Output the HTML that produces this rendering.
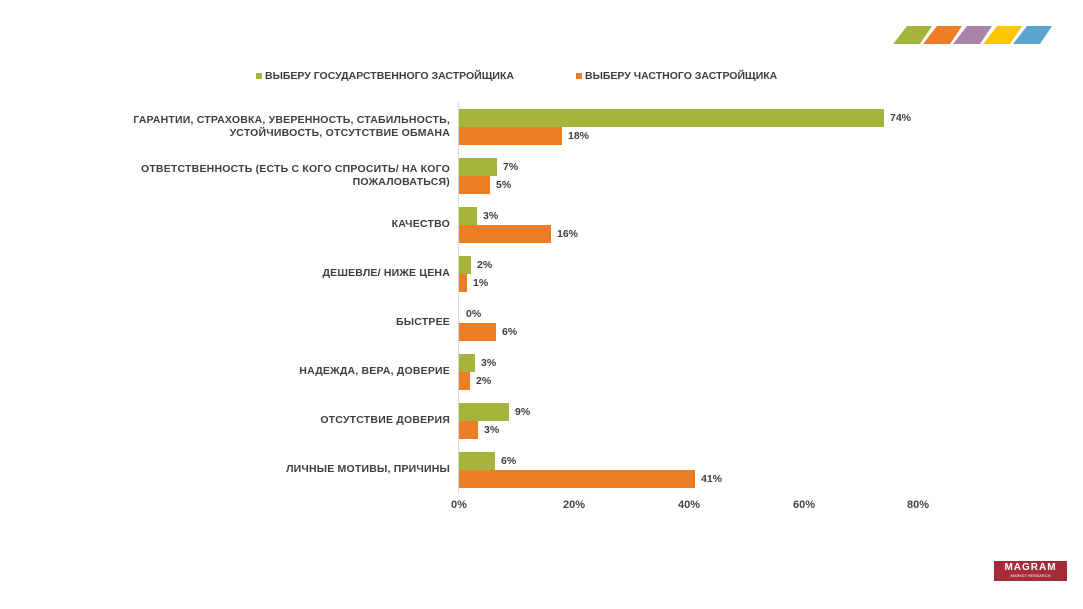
<!DOCTYPE html>
<html><head><meta charset="utf-8"><style>
body{margin:0;width:1083px;height:609px;background:#fff;position:relative;overflow:hidden;font-family:"Liberation Sans","DejaVu Sans",sans-serif;color:#404040}
.a{position:absolute}
.lab{position:absolute;right:633px;text-align:right;font-size:10.5px;font-weight:bold;line-height:13px;color:#3f3f3f;letter-spacing:0.2px}
.v{position:absolute;font-size:10.5px;font-weight:bold;color:#3f3f3f}
.g{position:absolute;left:459px;height:18px;background:#a5b43c}
.o{position:absolute;left:459px;height:18px;background:#ee7d26}
.t{position:absolute;top:499px;font-size:11px;font-weight:bold;color:#444;width:40px;text-align:center}
</style></haed><body>
<svg class="a" style="left:890px;top:24px" width="170" height="22">
<polygon points="17,2 42,2 30,20 3,20" fill="#a5b43c"/>
<polygon points="47,2 72,2 60,20 33,20" fill="#ee7d26"/>
<polygon points="77,2 102,2 90,20 63,20" fill="#a982a8"/>
<polygon points="107,2 132,2 120,20 93,20" fill="#f9c800"/>
<polygon points="137,2 162,2 150,20 123,20" fill="#5aa4d0"/>
</svg>
<div class="a" style="left:256px;top:73px;width:6px;height:6px;background:#a5b43c"></div>
<div class="a" style="left:265px;top:70px;font-size:10.5px;font-weight:bold;color:#3f3f3f">ВЫБЕРУ ГОСУДАРСТВЕННОГО ЗАСТРОЙЩИКА</div>
<div class="a" style="left:576px;top:73px;width:6px;height:6px;background:#ee7d26"></div>
<div class="a" style="left:585px;top:70px;font-size:10.5px;font-weight:bold;color:#3f3f3f">ВЫБЕРУ ЧАСТНОГО ЗАСТРОЙЩИКА</div>
<div class="a" style="left:458px;top:102px;width:1px;height:392px;background:#d9d9d9"></div>

<div class="lab" style="top:114px">ГАРАНТИИ, СТРАХОВКА, УВЕРЕННОСТЬ, СТАБИЛЬНОСТЬ,<br>УСТОЙЧИВОСТЬ, ОТСУТСТВИЕ ОБМАНА</div>
<div class="g" style="top:109px;width:425px"></div><div class="v" style="left:890px;top:112px">74%</div>
<div class="o" style="top:127px;width:103px"></div><div class="v" style="left:568px;top:130px">18%</div>

<div class="lab" style="top:163px">ОТВЕТСТВЕННОСТЬ (ЕСТЬ С КОГО СПРОСИТЬ/ НА КОГО<br>ПОЖАЛОВАТЬСЯ)</div>
<div class="g" style="top:158px;width:38px"></div><div class="v" style="left:503px;top:161px">7%</div>
<div class="o" style="top:176px;width:31px"></div><div class="v" style="left:496px;top:179px">5%</div>

<div class="lab" style="top:218px">КАЧЕСТВО</div>
<div class="g" style="top:207px;width:18px"></div><div class="v" style="left:483px;top:210px">3%</div>
<div class="o" style="top:225px;width:92px"></div><div class="v" style="left:557px;top:228px">16%</div>

<div class="lab" style="top:267px">ДЕШЕВЛЕ/ НИЖЕ ЦЕНА</div>
<div class="g" style="top:256px;width:12px"></div><div class="v" style="left:477px;top:259px">2%</div>
<div class="o" style="top:274px;width:8px"></div><div class="v" style="left:473px;top:277px">1%</div>

<div class="lab" style="top:316px">БЫСТРЕЕ</div>
<div class="v" style="left:466px;top:308px">0%</div>
<div class="o" style="top:323px;width:37px"></div><div class="v" style="left:502px;top:326px">6%</div>

<div class="lab" style="top:365px">НАДЕЖДА, ВЕРА, ДОВЕРИЕ</div>
<div class="g" style="top:354px;width:16px"></div><div class="v" style="left:481px;top:357px">3%</div>
<div class="o" style="top:372px;width:11px"></div><div class="v" style="left:476px;top:375px">2%</div>

<div class="lab" style="top:414px">ОТСУТСТВИЕ ДОВЕРИЯ</div>
<div class="g" style="top:403px;width:50px"></div><div class="v" style="left:515px;top:406px">9%</div>
<div class="o" style="top:421px;width:19px"></div><div class="v" style="left:484px;top:424px">3%</div>

<div class="lab" style="top:463px">ЛИЧНЫЕ МОТИВЫ, ПРИЧИНЫ</div>
<div class="g" style="top:452px;width:36px"></div><div class="v" style="left:501px;top:455px">6%</div>
<div class="o" style="top:470px;width:236px"></div><div class="v" style="left:701px;top:473px">41%</div>

<div class="t" style="left:439px">0%</div>
<div class="t" style="left:554px">20%</div>
<div class="t" style="left:669px">40%</div>
<div class="t" style="left:784px">60%</div>
<div class="t" style="left:898px">80%</div>

<div class="a" style="left:994px;top:561px;width:73px;height:20px;background:#a52a3a;color:#fff;text-align:center">
<div style="font-size:10px;font-weight:bold;line-height:11px;letter-spacing:1px;margin-top:1px">MAGRAM</div>
<div style="font-size:4px;line-height:5px">MARKET RESEARCH</div></div>
</body></html>
